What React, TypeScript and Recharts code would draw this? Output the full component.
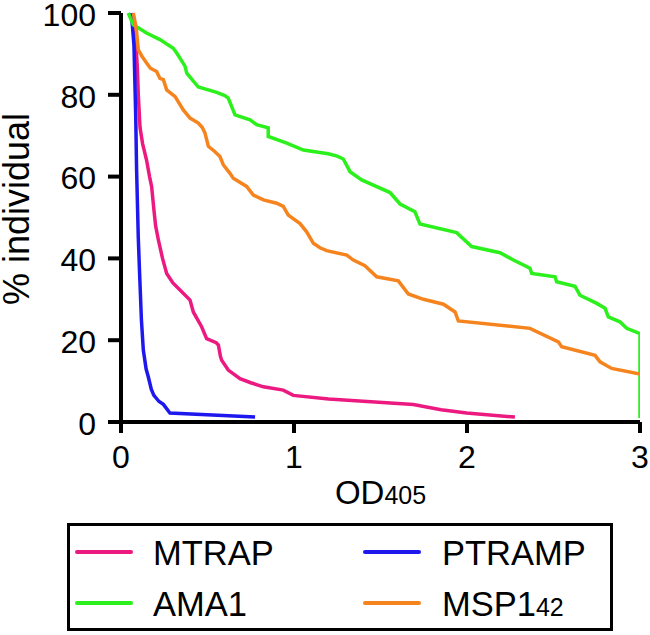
import React from "react";
import { LineChart, Line, XAxis, YAxis } from "recharts";

type Pt = { x: number; y: number };

const xTicks = [0, 1, 2, 3];
const yTicks = [0, 20, 40, 60, 80, 100];

// OD405 vs % individual
const mtrap: Pt[] = [
	[0.07, 100], [0.085, 93], [0.094, 87], [0.1, 80], [0.11, 72], [0.125, 68],
	[0.148, 64], [0.165, 60], [0.177, 57.6], [0.19, 52], [0.2, 48], [0.216, 44.5],
	[0.24, 40], [0.264, 36.3], [0.3, 34], [0.341, 32.3], [0.399, 29.8], [0.418, 26.9],
	[0.466, 23.3], [0.495, 20.4], [0.55, 19.4], [0.563, 18.8], [0.575, 16], [0.582, 15.1],
	[0.62, 12.7], [0.688, 10.6], [0.75, 9.6], [0.823, 8.6], [0.938, 7.8], [0.996, 6.5],
	[1.2, 5.6], [1.69, 4.3], [1.85, 3], [1.998, 2.2], [2.277, 1.2],
].map(([x, y]) => ({ x, y }));

const ptramp: Pt[] = [
	[0.06, 100], [0.075, 92], [0.085, 75], [0.09, 62], [0.1, 45], [0.106, 38],
	[0.118, 25], [0.129, 17.6], [0.145, 13], [0.158, 11], [0.175, 8], [0.19, 6.5],
	[0.22, 5], [0.245, 4.3], [0.283, 2.2], [0.775, 1.2],
].map(([x, y]) => ({ x, y }));

const ama1: Pt[] = [
	[0.042, 100], [0.071, 97.1], [0.148, 95.1], [0.225, 93.5], [0.302, 91.4], [0.322, 90.2],
	[0.37, 87], [0.38, 85.3], [0.447, 81.9], [0.553, 80.6], [0.6, 79.8], [0.62, 79.2],
	[0.659, 75.1], [0.746, 73.9], [0.784, 72.7], [0.851, 71.9], [0.851, 69.8], [0.958, 68.2],
	[1.054, 66.5], [1.198, 65.6], [1.25, 65], [1.285, 64.3], [1.324, 61.2], [1.391, 59.2],
	[1.555, 56.1], [1.613, 53.3], [1.699, 51.4], [1.728, 48.4], [1.94, 46.3], [2.027, 42.9],
	[2.191, 41.4], [2.268, 39.6], [2.364, 37.6], [2.374, 36.3], [2.509, 35.5], [2.518, 34.3],
	[2.624, 33.2], [2.653, 31.0], [2.75, 29.0], [2.798, 27.8], [2.817, 25.7], [2.884, 24.5],
	[2.923, 22.9], [3.0, 21.6], [3.0, 1.0],
].map(([x, y]) => ({ x, y }));

const msp142: Pt[] = [
	[0.071, 100], [0.085, 97], [0.09, 95.5], [0.1, 91], [0.12, 89.5], [0.148, 87.8],
	[0.17, 86.5], [0.206, 85.7], [0.225, 84], [0.245, 83.7], [0.264, 81.2], [0.3, 80],
	[0.312, 79.6], [0.36, 76.3], [0.399, 74.3], [0.447, 73.1], [0.47, 72], [0.486, 70.6],
	[0.505, 67.4], [0.54, 66.2], [0.572, 64.9], [0.591, 62.9], [0.63, 60.8], [0.649, 59.6],
	[0.726, 57.6], [0.765, 55.5], [0.823, 54.3], [0.9, 53.5], [0.938, 52.7], [0.967, 50.6],
	[1.035, 48.5], [1.073, 46.5], [1.112, 43.7], [1.15, 42.6], [1.189, 41.9], [1.305, 40.8],
	[1.343, 39.6], [1.41, 38.2], [1.478, 35.5], [1.603, 34.5], [1.661, 31.3], [1.748, 30.0],
	[1.864, 28.8], [1.931, 26.9], [1.95, 24.7], [2.364, 22.9], [2.528, 19.6], [2.547, 18.4],
	[2.74, 16.3], [2.769, 14.7], [2.836, 13.1], [3.0, 11.7],
].map(([x, y]) => ({ x, y }));

const series = [
	{ name: "MTRAP", sub: "", color: "#ec1a80", data: mtrap },
	{ name: "PTRAMP", sub: "", color: "#1e18ee", data: ptramp },
	{ name: "AMA1", sub: "", color: "#2cf01c", data: ama1 },
	{ name: "MSP1", sub: "42", color: "#f5841f", data: msp142 },
];

const font = "'Liberation Sans', Arial, Helvetica, sans-serif";
const axisStyle = { stroke: "#000", strokeWidth: 4 };

function XTick(props: { x?: number; y?: number; payload?: { value?: number } }) {
	return (
		<text x={props.x} y={456} dy="0.36em" textAnchor="middle" fontFamily={font} fontSize={32} fill="#000">
			{props.payload?.value}
		</text>
	);
}

function YTick(props: { x?: number; y?: number; payload?: { value?: number } }) {
	return (
		<text x={96} y={props.y} dy="0.4em" textAnchor="end" fontFamily={font} fontSize={32} fill="#000">
			{props.payload?.value}
		</text>
	);
}

function XLabel(props: { viewBox?: { x: number; y: number; width: number } }) {
	const vb = props.viewBox ?? { x: 0, y: 0, width: 0 };
	return (
		<text x={vb.x + vb.width / 2} y={504} textAnchor="middle" fontFamily={font} fill="#000">
			<tspan fontSize={33}>OD</tspan>
			<tspan fontSize={25}>405</tspan>
		</text>
	);
}

function YLabel() {
	return (
		<text
			x={29}
			y={209}
			transform="rotate(-90 29 209)"
			textAnchor="middle"
			fontFamily={font}
			fontSize={36}
			fill="#000"
		>
			% individual
		</text>
	);
}

function ChartLegend() {
	// two columns, two rows, framed
	const cols = [
		{ lx: 77, tx: 153 },
		{ lx: 365, tx: 442 },
	];
	const rows = [552, 603];
	return (
		<svg
			width={650}
			height={635}
			style={{ position: "absolute", left: 0, top: 0, pointerEvents: "none" }}
		>
			<rect x={68.5} y={524.5} width={543} height={105} fill="none" stroke="#000" strokeWidth={3} />
			{series.map((s, i) => {
				const c = cols[i % 2];
				const r = rows[Math.floor(i / 2)];
				return (
					<g key={s.name}>
						<line x1={c.lx} x2={c.lx + 54} y1={r} y2={r} stroke={s.color} strokeWidth={4} strokeLinecap="round" />
						<text x={c.tx} y={r + 13} fontFamily={font} fontSize={34.5} fill="#000">
							{s.name}
							{s.sub && <tspan fontSize={25}>{s.sub}</tspan>}
						</text>
					</g>
				);
			})}
		</svg>
	);
}

export default function App() {
	return (
		<div style={{ position: "absolute", left: 0, top: 0, width: 650, height: 635, background: "#fff" }}>
			<LineChart width={650} height={635} margin={{ top: 13, right: 10, left: 31, bottom: 133 }}>
				<XAxis
					type="number"
					dataKey="x"
					domain={[0, 3]}
					ticks={xTicks}
					allowDataOverflow
					height={80}
					axisLine={axisStyle}
					tickLine={axisStyle}
					tickSize={11}
					tick={<XTick />}
					label={<XLabel />}
				/>
				<YAxis
					type="number"
					dataKey="y"
					domain={[0, 100]}
					ticks={yTicks}
					width={90}
					axisLine={axisStyle}
					tickLine={axisStyle}
					tickSize={13}
					tick={<YTick />}
					label={<YLabel />}
				/>
				{series.map((s) => (
					<Line
						key={s.name}
						data={s.data}
						dataKey="y"
						type="linear"
						stroke={s.color}
						strokeWidth={3.5}
						dot={false}
						isAnimationActive={false}
					/>
				))}
			</LineChart>
			<ChartLegend />
		</div>
	);
}
